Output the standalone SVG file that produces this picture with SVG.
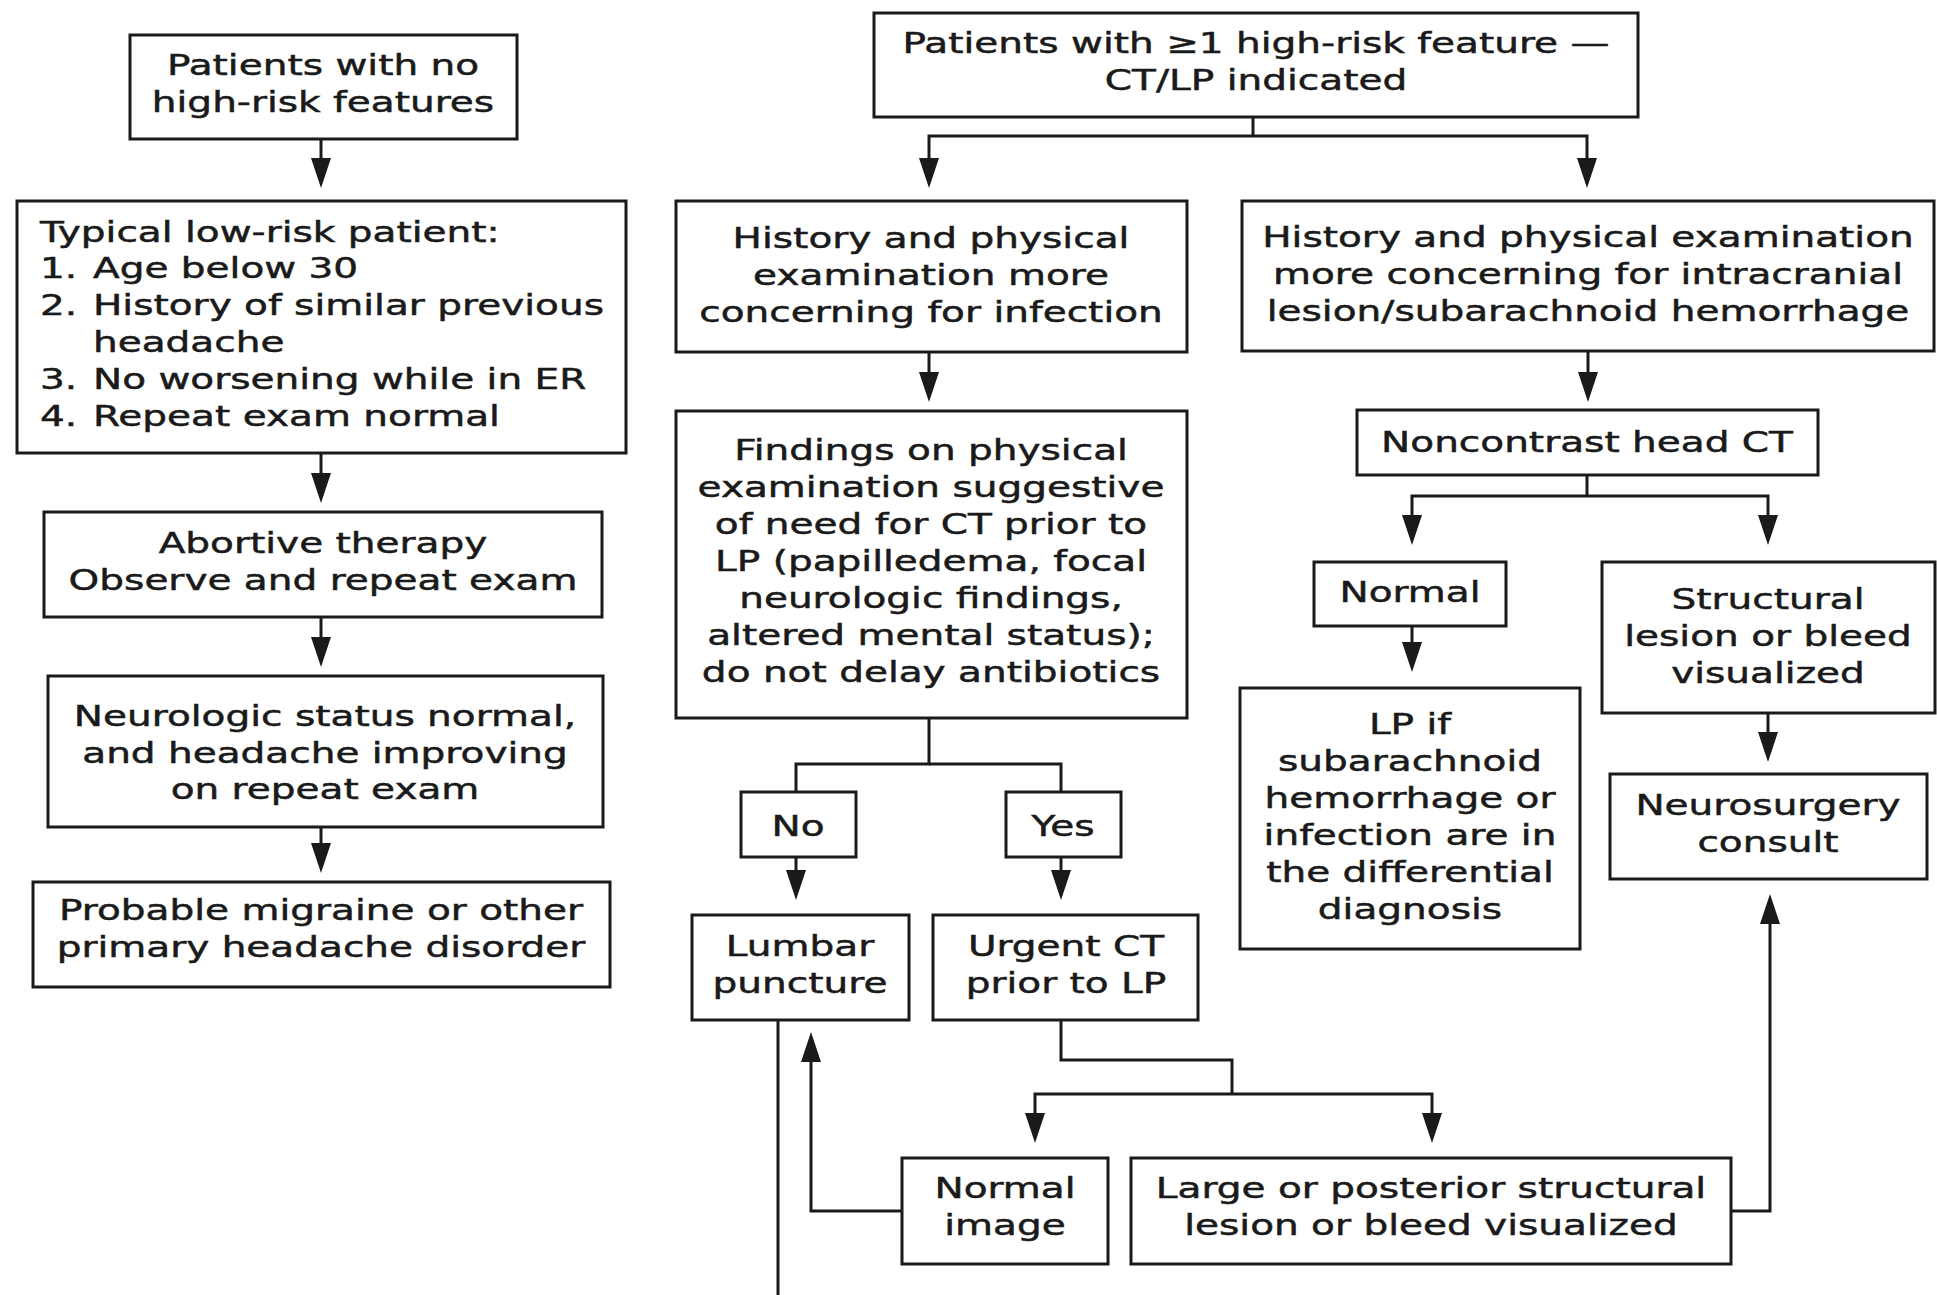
<svg xmlns="http://www.w3.org/2000/svg" width="1937" height="1295" viewBox="0 0 1937 1295">
<defs>
<style>
.b{fill:#fff;stroke:#1a1a1a;stroke-width:3}
.t{font-family:"DejaVu Sans",Verdana,sans-serif;font-size:29px;fill:#1a1a1a;stroke:#1a1a1a;stroke-width:0.5;text-anchor:middle}
.l{text-anchor:start}
.c{fill:none;stroke:#1a1a1a;stroke-width:3}
.a{marker-end:url(#ah)}
</style>
<marker id="ah" markerUnits="userSpaceOnUse" orient="auto" markerWidth="31" markerHeight="21" refX="24" refY="10.5" viewBox="0 0 31 21">
<path d="M0,0.5 L30,10.5 L0,20.5 z" fill="#1a1a1a"/>
</marker>
</defs>
<rect width="1937" height="1295" fill="#fff"/>
<g id="connectors">
<path class="c a" d="M321,139 V182"/>
<path class="c a" d="M321,453 V497"/>
<path class="c a" d="M321,617 V661"/>
<path class="c a" d="M321,827 V867"/>
<path class="c" d="M1253,117 V136"/>
<path class="c a" d="M1253,136 H929 V182"/>
<path class="c a" d="M1253,136 H1587 V182"/>
<path class="c a" d="M929,352 V396"/>
<path class="c" d="M929,718 V764 H796 V792"/>
<path class="c" d="M929,764 H1061 V792"/>
<path class="c a" d="M796,857 V894"/>
<path class="c a" d="M1061,857 V894"/>
<path class="c" d="M1061,1020 V1060 H1232 V1094"/>
<path class="c a" d="M1232,1094 H1035 V1137"/>
<path class="c a" d="M1232,1094 H1432 V1137"/>
<path class="c a" d="M902,1211 H811 V1038"/>
<path class="c" d="M778,1020 V1295"/>
<path class="c a" d="M1731,1211 H1770 V900"/>
<path class="c a" d="M1588,351 V396"/>
<path class="c" d="M1587,475 V496"/>
<path class="c a" d="M1587,496 H1412 V539"/>
<path class="c a" d="M1587,496 H1768 V539"/>
<path class="c a" d="M1412,626 V666"/>
<path class="c a" d="M1768,713 V756"/>
</g>
<g id="nA">
<rect class="b" x="130" y="35" width="387" height="104"/>
<text class="t" transform="translate(323,75) scale(1.345,1)">Patients with no</text>
<text class="t" transform="translate(323,112) scale(1.345,1)">high-risk features</text>
</g>
<g id="nB">
<rect class="b" x="17" y="201" width="609" height="252"/>
<text class="t l" transform="translate(40,242) scale(1.345,1)">Typical low-risk patient:</text>
<text class="t l" transform="translate(40,278) scale(1.345,1)">1.</text>
<text class="t l" transform="translate(93,278) scale(1.345,1)">Age below 30</text>
<text class="t l" transform="translate(40,315) scale(1.345,1)">2.</text>
<text class="t l" transform="translate(93,315) scale(1.345,1)">History of similar previous</text>
<text class="t l" transform="translate(93,352) scale(1.345,1)">headache</text>
<text class="t l" transform="translate(40,389) scale(1.345,1)">3.</text>
<text class="t l" transform="translate(93,389) scale(1.345,1)">No worsening while in ER</text>
<text class="t l" transform="translate(40,426) scale(1.345,1)">4.</text>
<text class="t l" transform="translate(93,426) scale(1.345,1)">Repeat exam normal</text>
</g>
<g id="nC">
<rect class="b" x="44" y="512" width="558" height="105"/>
<text class="t" transform="translate(323,553) scale(1.345,1)">Abortive therapy</text>
<text class="t" transform="translate(323,590) scale(1.345,1)">Observe and repeat exam</text>
</g>
<g id="nD">
<rect class="b" x="48" y="676" width="555" height="151"/>
<text class="t" transform="translate(325,726) scale(1.345,1)">Neurologic status normal,</text>
<text class="t" transform="translate(325,763) scale(1.345,1)">and headache improving</text>
<text class="t" transform="translate(325,799) scale(1.345,1)">on repeat exam</text>
</g>
<g id="nE">
<rect class="b" x="33" y="882" width="577" height="105"/>
<text class="t" transform="translate(321,920) scale(1.345,1)">Probable migraine or other</text>
<text class="t" transform="translate(321,957) scale(1.345,1)">primary headache disorder</text>
</g>
<g id="nF">
<rect class="b" x="874" y="13" width="764" height="104"/>
<text class="t" transform="translate(1256,53) scale(1.345,1)">Patients with ≥1 high-risk feature —</text>
<text class="t" transform="translate(1256,90) scale(1.345,1)">CT/LP indicated</text>
</g>
<g id="nG">
<rect class="b" x="676" y="201" width="511" height="151"/>
<text class="t" transform="translate(931,248) scale(1.345,1)">History and physical</text>
<text class="t" transform="translate(931,285) scale(1.345,1)">examination more</text>
<text class="t" transform="translate(931,322) scale(1.345,1)">concerning for infection</text>
</g>
<g id="nH">
<rect class="b" x="676" y="411" width="511" height="307"/>
<text class="t" transform="translate(931,460) scale(1.345,1)">Findings on physical</text>
<text class="t" transform="translate(931,497) scale(1.345,1)">examination suggestive</text>
<text class="t" transform="translate(931,534) scale(1.345,1)">of need for CT prior to</text>
<text class="t" transform="translate(931,571) scale(1.345,1)">LP (papilledema, focal</text>
<text class="t" transform="translate(931,608) scale(1.345,1)">neurologic findings,</text>
<text class="t" transform="translate(931,645) scale(1.345,1)">altered mental status);</text>
<text class="t" transform="translate(931,682) scale(1.345,1)">do not delay antibiotics</text>
</g>
<g id="nNo">
<rect class="b" x="741" y="792" width="115" height="65"/>
<text class="t" transform="translate(798,836) scale(1.345,1)">No</text>
</g>
<g id="nYes">
<rect class="b" x="1006" y="792" width="115" height="65"/>
<text class="t" transform="translate(1063,836) scale(1.345,1)">Yes</text>
</g>
<g id="nLumbar">
<rect class="b" x="692" y="915" width="217" height="105"/>
<text class="t" transform="translate(800,956) scale(1.345,1)">Lumbar</text>
<text class="t" transform="translate(800,993) scale(1.345,1)">puncture</text>
</g>
<g id="nUrgent">
<rect class="b" x="933" y="915" width="265" height="105"/>
<text class="t" transform="translate(1066,956) scale(1.345,1)">Urgent CT</text>
<text class="t" transform="translate(1066,993) scale(1.345,1)">prior to LP</text>
</g>
<g id="nNormalImage">
<rect class="b" x="902" y="1158" width="206" height="106"/>
<text class="t" transform="translate(1005,1198) scale(1.345,1)">Normal</text>
<text class="t" transform="translate(1005,1235) scale(1.345,1)">image</text>
</g>
<g id="nLarge">
<rect class="b" x="1131" y="1158" width="600" height="106"/>
<text class="t" transform="translate(1431,1198) scale(1.345,1)">Large or posterior structural</text>
<text class="t" transform="translate(1431,1235) scale(1.345,1)">lesion or bleed visualized</text>
</g>
<g id="nI">
<rect class="b" x="1242" y="201" width="692" height="150"/>
<text class="t" transform="translate(1588,247) scale(1.345,1)">History and physical examination</text>
<text class="t" transform="translate(1588,284) scale(1.345,1)">more concerning for intracranial</text>
<text class="t" transform="translate(1588,321) scale(1.345,1)">lesion/subarachnoid hemorrhage</text>
</g>
<g id="nCT">
<rect class="b" x="1357" y="410" width="461" height="65"/>
<text class="t" transform="translate(1587,452) scale(1.345,1)">Noncontrast head CT</text>
</g>
<g id="nNormal">
<rect class="b" x="1314" y="562" width="192" height="64"/>
<text class="t" transform="translate(1410,602) scale(1.345,1)">Normal</text>
</g>
<g id="nLP">
<rect class="b" x="1240" y="688" width="340" height="261"/>
<text class="t" transform="translate(1410,734) scale(1.345,1)">LP if</text>
<text class="t" transform="translate(1410,771) scale(1.345,1)">subarachnoid</text>
<text class="t" transform="translate(1410,808) scale(1.345,1)">hemorrhage or</text>
<text class="t" transform="translate(1410,845) scale(1.345,1)">infection are in</text>
<text class="t" transform="translate(1410,882) scale(1.345,1)">the differential</text>
<text class="t" transform="translate(1410,919) scale(1.345,1)">diagnosis</text>
</g>
<g id="nStructural">
<rect class="b" x="1602" y="562" width="333" height="151"/>
<text class="t" transform="translate(1768,609) scale(1.345,1)">Structural</text>
<text class="t" transform="translate(1768,646) scale(1.345,1)">lesion or bleed</text>
<text class="t" transform="translate(1768,683) scale(1.345,1)">visualized</text>
</g>
<g id="nNeuro">
<rect class="b" x="1610" y="774" width="317" height="105"/>
<text class="t" transform="translate(1768,815) scale(1.345,1)">Neurosurgery</text>
<text class="t" transform="translate(1768,852) scale(1.345,1)">consult</text>
</g>
</svg>
